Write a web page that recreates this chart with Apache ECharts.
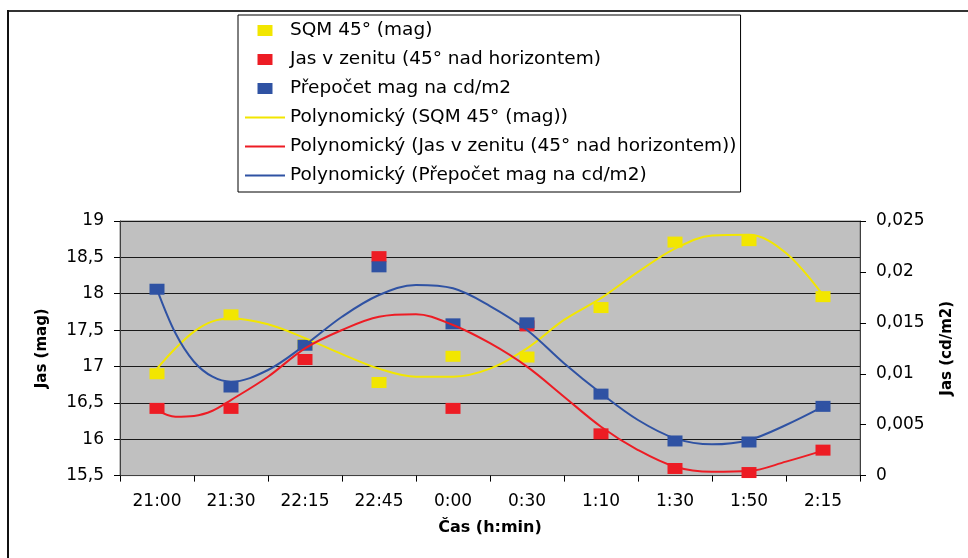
<!DOCTYPE html>
<html>
<head>
<meta charset="utf-8">
<script src="https://cdn.jsdelivr.net/npm/echarts@6/dist/echarts.min.js"></script>
<style>html,body{margin:0;padding:0;background:#fff}#c{width:968px;height:558px}</style>
</head>
<body>
<div id="c"></div>
<script>
// ---- data ----
var categories = ['21:00','21:30','22:15','22:45','0:00','0:30','1:10','1:30','1:50','2:15'];
var sqm = [16.90, 17.71, 17.30, 16.78, 17.14, 17.13, 17.81, 18.71, 18.73, 17.96];          // mag (left axis)
var jasZenit = [0.0066, 0.0066, 0.0114, 0.0215, 0.0066, 0.0147, 0.0041, 0.0007, 0.0003, 0.0025]; // cd/m2 (right axis)
var prepocet = [0.0183, 0.0087, 0.0128, 0.0205, 0.0149, 0.0150, 0.0080, 0.0034, 0.0033, 0.0068]; // cd/m2 (right axis)

// trend lines at category positions (1 = first category)
var trendX = [1, 1.25, 1.5, 1.75, 2, 2.5, 3, 3.5, 4, 4.5, 5, 5.5, 6, 6.5, 7, 7.5, 8, 8.5, 9, 9.5, 10];
var trendSqm = [16.97, 17.25, 17.48, 17.62, 17.66, 17.58, 17.39, 17.17, 16.97, 16.86, 16.86, 16.97, 17.25, 17.64, 17.94, 18.30, 18.62, 18.80, 18.81, 18.56, 17.98];
var trendJas = [0.00644, 0.00579, 0.00586, 0.00637, 0.00742, 0.00971, 0.0125, 0.0143, 0.0156, 0.01584, 0.01479, 0.0130, 0.0107, 0.00775, 0.0048, 0.00251, 0.00087, 0.00038, 0.00045, 0.00137, 0.00245];
var trendPre = [0.01829, 0.01397, 0.01118, 0.00971, 0.00922, 0.01037, 0.01282, 0.0156, 0.01773, 0.01872, 0.01839, 0.01665, 0.0143, 0.01103, 0.00808, 0.00546, 0.00366, 0.00307, 0.0035, 0.00497, 0.00677];

var leftTicks = {min: 15.5, max: 19, interval: 0.5};
var rightTicks = {min: 0, max: 0.025, interval: 0.005};

var names = ['SQM 45° (mag)', 'Jas v zenitu (45° nad horizontem)', 'Přepočet mag na cd/m2',
  'Polynomický (SQM 45° (mag))', 'Polynomický (Jas v zenitu (45° nad horizontem))', 'Polynomický (Přepočet mag na cd/m2)'];

var YEL = '#f2e600', RED = '#ed1c24', BLU = '#2f52a3';
var FONT = 'DejaVu Sans';

function pairs(xs, ys) { return xs.map(function (x, i) { return [x, ys[i]]; }); }
function comma(v) { return String(v).replace('.', ','); }

var sq = 'path://M0,0h15v11h-15z';
var ln = 'path://M0,0h40v2h-40z';

var chart = echarts.init(document.getElementById('c'), null, {renderer: 'canvas'});
chart.setOption({
  animation: false,
  backgroundColor: '#fff',
  textStyle: {fontFamily: FONT},
  graphic: [
    {type: 'line', shape: {x1: 7, y1: 11, x2: 968, y2: 11}, style: {stroke: '#333', lineWidth: 2}},
    {type: 'line', shape: {x1: 8, y1: 10, x2: 8, y2: 558}, style: {stroke: '#111', lineWidth: 2}}
  ],
  legend: {
    orient: 'vertical', left: 238, top: 15,
    padding: [6, 4, 7, 7],
    borderColor: '#000', borderWidth: 1,
    itemWidth: 40, itemHeight: 11, itemGap: 10,
    symbolKeepAspect: true,
    textStyle: {fontFamily: FONT, fontSize: 18.5, color: '#000', lineHeight: 19},
    data: [
      {name: names[0], icon: sq, itemStyle: {color: YEL, opacity: 1}},
      {name: names[1], icon: sq, itemStyle: {color: RED, opacity: 1}},
      {name: names[2], icon: sq, itemStyle: {color: BLU, opacity: 1}},
      {name: names[3], icon: ln, itemStyle: {color: YEL}},
      {name: names[4], icon: ln, itemStyle: {color: RED}},
      {name: names[5], icon: ln, itemStyle: {color: BLU}}
    ]
  },
  grid: {left: 120, right: 108, top: 221, height: 254.6, show: true, backgroundColor: '#c0c0c0', borderColor: '#808080', borderWidth: 1},
  xAxis: [
    {type: 'category', data: categories, boundaryGap: true,
      name: 'Čas (h:min)', nameLocation: 'middle', nameGap: 44,
      nameTextStyle: {fontFamily: FONT, fontWeight: 'bold', fontSize: 16, color: '#000'},
      axisLine: {lineStyle: {color: '#404040', width: 1}},
      axisTick: {show: true, length: 6, lineStyle: {color: '#000'}},
      axisLabel: {fontFamily: FONT, fontSize: 17, color: '#000', margin: 17},
      splitLine: {show: false}},
    {type: 'value', min: 0.5, max: 10.5, show: false}
  ],
  yAxis: [
    {type: 'value', min: leftTicks.min, max: leftTicks.max, interval: leftTicks.interval, position: 'left',
      name: 'Jas (mag)', nameLocation: 'middle', nameRotate: 90, nameGap: 70,
      nameTextStyle: {fontFamily: FONT, fontWeight: 'bold', fontSize: 15, color: '#000'},
      axisLine: {show: true, lineStyle: {color: '#404040'}},
      axisTick: {show: true, length: 6, lineStyle: {color: '#000'}},
      axisLabel: {fontFamily: FONT, fontSize: 17, color: '#000', margin: 16, formatter: comma},
      splitLine: {show: true, lineStyle: {color: '#1a1a1a', width: 1}}},
    {type: 'value', min: rightTicks.min, max: rightTicks.max, interval: rightTicks.interval, position: 'right',
      name: 'Jas (cd/m2)', nameLocation: 'middle', nameRotate: 90, nameGap: 80,
      nameTextStyle: {fontFamily: FONT, fontWeight: 'bold', fontSize: 15, color: '#000'},
      axisLine: {show: true, lineStyle: {color: '#404040'}},
      axisTick: {show: true, length: 6, lineStyle: {color: '#000'}},
      axisLabel: {fontFamily: FONT, fontSize: 17, color: '#000', margin: 16, formatter: comma},
      splitLine: {show: false}}
  ],
  series: [
    {name: names[0], type: 'scatter', xAxisIndex: 0, yAxisIndex: 0, data: sqm, symbol: 'rect', symbolSize: [15, 11], itemStyle: {color: YEL, opacity: 1}, z: 2},
    {name: names[1], type: 'scatter', xAxisIndex: 0, yAxisIndex: 1, data: jasZenit, symbol: 'rect', symbolSize: [15, 11], itemStyle: {color: RED, opacity: 1}, z: 3},
    {name: names[2], type: 'scatter', xAxisIndex: 0, yAxisIndex: 1, data: prepocet, symbol: 'rect', symbolSize: [15, 11], itemStyle: {color: BLU, opacity: 1}, z: 4},
    {name: names[3], type: 'line', xAxisIndex: 1, yAxisIndex: 0, data: pairs(trendX, trendSqm), smooth: 0.35, symbol: 'none', lineStyle: {color: YEL, width: 2}, itemStyle: {color: YEL}, z: 5},
    {name: names[4], type: 'line', xAxisIndex: 1, yAxisIndex: 1, data: pairs(trendX, trendJas), smooth: 0.35, symbol: 'none', lineStyle: {color: RED, width: 2}, itemStyle: {color: RED}, z: 5},
    {name: names[5], type: 'line', xAxisIndex: 1, yAxisIndex: 1, data: pairs(trendX, trendPre), smooth: 0.35, symbol: 'none', lineStyle: {color: BLU, width: 2}, itemStyle: {color: BLU}, z: 5}
  ]
});
</script>
</body>
</html>
